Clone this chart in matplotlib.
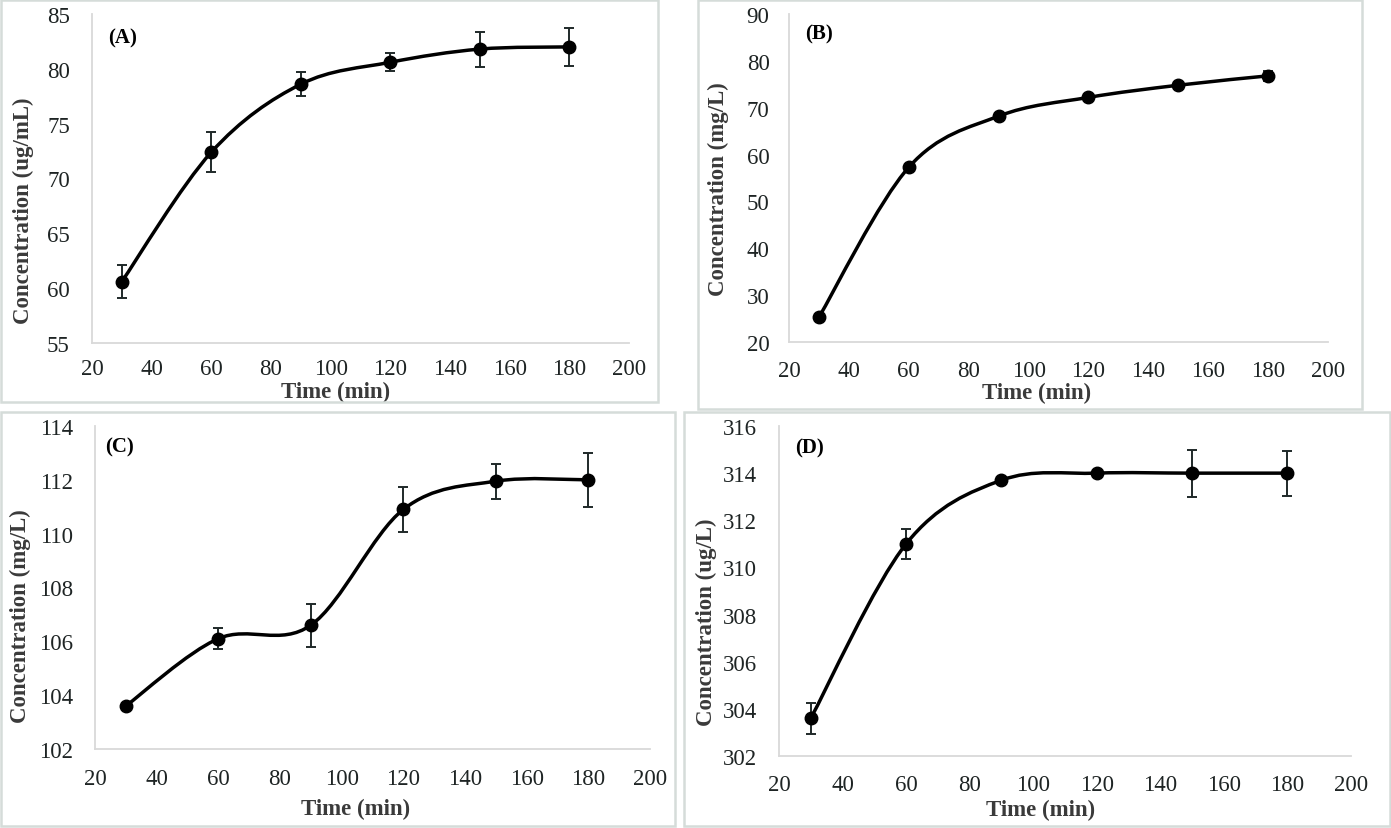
import matplotlib
matplotlib.use("Agg")
import matplotlib.pyplot as plt
from matplotlib.path import Path
from matplotlib.patches import PathPatch, Rectangle

# data
time_min = [30, 60, 90, 120, 150, 180]

conc_a = [60.6, 72.4, 78.6, 80.6, 81.8, 82.0]
err_a = [1.5, 1.8, 1.1, 0.8, 1.6, 1.7]

conc_b = [25.3, 57.3, 68.2, 72.2, 74.8, 76.8]
err_b = [0.4, 0.5, 0.5, 0.5, 0.5, 1.0]

conc_c = [103.6, 106.1, 106.6, 110.9, 111.95, 112.0]
err_c = [0.1, 0.4, 0.8, 0.85, 0.65, 1.0]

conc_d = [303.6, 311.0, 313.7, 314.0, 314.0, 314.0]
err_d = [0.65, 0.65, 0.1, 0.1, 1.0, 0.95]

W, H = 1391, 829
fig = plt.figure(figsize=(W / 100, H / 100), dpi=100)
fig.patch.set_facecolor("white")

SERIF = "Liberation Serif"
TICK_COL = "#1e2424"
LAB_COL = "#3a3a3a"


def fx(x):
    return x / W


def fy(y):
    return 1 - y / H


def smooth_path(xs, ys):
    # Excel-like smoothed line: Catmull-Rom converted to cubic beziers
    pts = list(zip(xs, ys))
    n = len(pts)
    verts = [pts[0]]
    codes = [Path.MOVETO]
    for i in range(n - 1):
        p0 = pts[i - 1] if i > 0 else pts[i]
        p1 = pts[i]
        p2 = pts[i + 1]
        p3 = pts[i + 2] if i + 2 < n else pts[i + 1]
        c1 = (p1[0] + (p2[0] - p0[0]) / 6, p1[1] + (p2[1] - p0[1]) / 6)
        c2 = (p2[0] - (p3[0] - p1[0]) / 6, p2[1] - (p3[1] - p1[1]) / 6)
        verts += [c1, c2, p2]
        codes += [Path.CURVE4] * 3
    return Path(verts, codes)


# panel frames (left, top, right, bottom) in pixels
frames = [(1, 1, 658, 403), (698, 1, 1362, 410), (1, 413, 675, 827), (684, 413, 1390, 827)]
for l, t, r, b in frames:
    fig.patches.append(Rectangle((fx(l), fy(b)), fx(r) - fx(l), fy(t) - fy(b),
                                 transform=fig.transFigure, fill=False,
                                 edgecolor="#d5dcd9", lw=1.8, zorder=0))

panels = [
    # name, y, err, ylabel, ylim, ystep, axes px rect, ylabel px, xlabel px, letter px, pads
    ("(A)", conc_a, err_a, "Concentration (ug/mL)", (55, 85), 5,
     (92, 15, 629, 344), (23, 211), (336, 392), (123, 38), 16, 11),
    ("(B)", conc_b, err_b, "Concentration (mg/L)", (20, 90), 10,
     (789, 15, 1328, 343), (718, 189), (1037, 393), (819, 34), 14, 13),
    ("(C)", conc_c, err_c, "Concentration (mg/L)", (102, 114), 2,
     (95, 427, 650, 750), (20, 616), (356, 809), (119, 447), 16, 14),
    ("(D)", conc_d, err_d, "Concentration (ug/L)", (302, 316), 2,
     (779, 427, 1351, 757), (706, 622), (1041, 810), (809, 448), 16, 13),
]

for (letter, conc, err, ylab, ylim, ystep, rect, ylpos, xlpos, letpos,
     ypad, xpad) in panels:
    l, t, r, b = rect
    ax = fig.add_axes([fx(l), fy(b), fx(r) - fx(l), fy(t) - fy(b)])
    ax.set_facecolor("none")

    ax.add_patch(PathPatch(smooth_path(time_min, conc), fill=False,
                           edgecolor="black", lw=2.5, zorder=3))
    ax.errorbar(time_min, conc, yerr=err, fmt="none", ecolor="#1f2929",
                elinewidth=1.4, capsize=3.8, capthick=1.4, zorder=2)
    ax.plot(time_min, conc, "o", color="black", ms=9, zorder=4)

    ax.set_xlim(20, 200)
    ax.set_xticks(range(20, 201, 20))
    ax.set_ylim(*ylim)
    ax.set_yticks(list(range(ylim[0], ylim[1] + 1, ystep)))

    for s in ("top", "right"):
        ax.spines[s].set_visible(False)
    for s in ("left", "bottom"):
        ax.spines[s].set_color("#d9d9d9")
        ax.spines[s].set_linewidth(1.3)
    ax.tick_params(axis="both", length=0, labelsize=16.5, labelcolor=TICK_COL)
    ax.tick_params(axis="y", pad=ypad)
    ax.tick_params(axis="x", pad=xpad)
    for lab in ax.get_xticklabels() + ax.get_yticklabels():
        lab.set_fontfamily(SERIF)

    ax.set_xlabel("Time (min)", fontfamily=SERIF, fontsize=16.5,
                  fontweight="bold", color=LAB_COL)
    ax.set_ylabel(ylab, fontfamily=SERIF, fontsize=16.5,
                  fontweight="bold", color=LAB_COL)
    ax.xaxis.set_label_coords(fx(xlpos[0]), fy(xlpos[1]), transform=fig.transFigure)
    ax.xaxis.label.set_va("center")
    ax.yaxis.set_label_coords(fx(ylpos[0]), fy(ylpos[1]), transform=fig.transFigure)
    ax.yaxis.label.set_va("center")

    fig.text(fx(letpos[0]), fy(letpos[1]), letter, fontfamily=SERIF,
             fontsize=15, fontweight="bold", color="black",
             ha="center", va="center")

fig.savefig("out.png", dpi=100, facecolor="white")
